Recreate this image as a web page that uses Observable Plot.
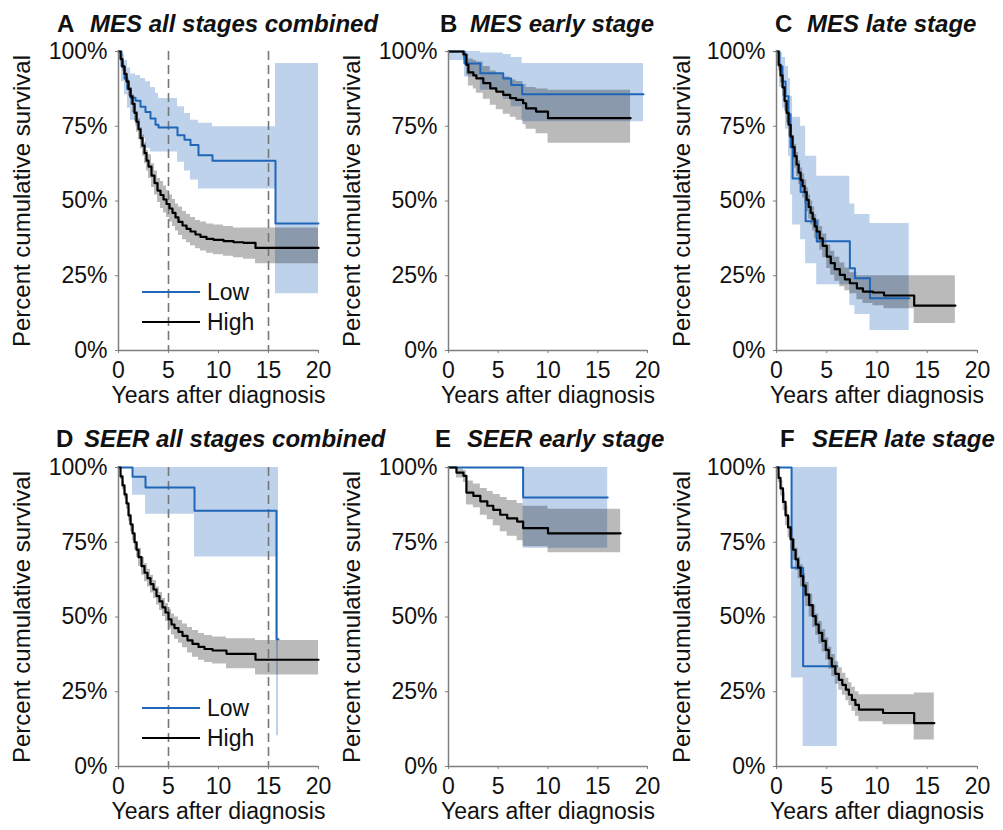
<!DOCTYPE html>
<html>
<head>
<meta charset="utf-8">
<script src="https://cdn.jsdelivr.net/npm/d3@7"></script>
<script src="https://cdn.jsdelivr.net/npm/@observablehq/plot@0.6"></script>
<style>
  html, body { margin: 0; padding: 0; background: #fff; }
  #root { position: relative; width: 1003px; height: 830px; overflow: hidden; font-family: "Liberation Sans", Arial, sans-serif; color: #111; }
  .panel { position: absolute; }
  .letter { position: absolute; font-weight: bold; font-size: 24px; line-height: 24px; white-space: nowrap; }
  .title { position: absolute; font-weight: bold; font-style: italic; font-size: 24px; line-height: 24px; white-space: nowrap; }
  .legend { position: absolute; overflow: visible; }
</style>
</head>
<body>
<div id="root"></div>
<script>
// ---------- labels & ticks ----------
const panelLetters = ["A", "B", "C", "D", "E", "F"];
const panelTitles = ["MES all stages combined", "MES early stage", "MES late stage",
                     "SEER all stages combined", "SEER early stage", "SEER late stage"];
const xLabel = "Years after diagnosis";
const yLabel = "Percent cumulative survival";
const xTicks = [0, 5, 10, 15, 20];
const yTicks = [0, 25, 50, 75, 100];
const legendLabels = ["Low", "High"];
const markerYears = [5, 15];

// ---------- A: MES all stages combined ----------
const mesAllLowT  = [0, 0.3, 0.6, 0.9, 1.2, 1.7, 2.2, 2.7, 3.2, 3.7, 4.0, 5.9, 6.6, 7.2, 8.0, 9.4, 15.7, 20];
const mesAllLowS  = [100, 95, 91, 87.5, 84.5, 83.5, 81.5, 79.8, 77.6, 75.5, 74.6, 72, 70.5, 68.7, 65.3, 63.5, 42.5, 42.5];
const mesAllLowHi = [100, 99, 97, 94.5, 92.5, 92, 91, 89.9, 88, 86, 84.3, 81.5, 79.3, 77, 76, 74.8, 96, 96];
const mesAllLowLo = [100, 90, 85.5, 81, 77, 75, 71, 67.6, 66.4, 66.4, 66.4, 63, 60, 57, 54, 54, 19, 19];

const mesAllHighT  = [0, 0.2, 0.4, 0.6, 0.8, 1.0, 1.2, 1.4, 1.6, 1.8, 2.0, 2.2, 2.4, 2.6, 2.8, 3.0, 3.3, 3.6, 3.9, 4.2, 4.5, 4.8, 5.1, 5.4, 5.7, 6.0, 6.4, 6.8, 7.2, 7.7, 8.2, 8.8, 9.5, 10.5, 11.5, 12.5, 13.7, 20];
const mesAllHighS  = [100, 97.5, 95, 92.5, 90, 87.5, 85, 82.5, 79.5, 76.5, 74, 71, 68.5, 66, 63.5, 61.5, 58.5, 56, 53.5, 52, 50.5, 49, 47.5, 46, 44.5, 43, 41.8, 40.7, 39.8, 38.8, 38, 37.3, 37, 36.6, 36.2, 36, 34.3, 34.3];
const mesAllHighHi = [100, 98.5, 96.5, 94.5, 92.5, 90, 88, 85.5, 82.5, 80, 77.5, 74.5, 72, 69.5, 67, 65.5, 62.5, 60, 57.5, 56.5, 55, 53.5, 52, 50.5, 49, 48, 46.5, 45.5, 44.5, 43.5, 43, 42.3, 42, 41.5, 41, 41, 41, 41];
const mesAllHighLo = [100, 96.5, 93.5, 90.5, 87.5, 85, 82, 79.5, 76.5, 73, 70.5, 67.5, 65, 62.5, 60, 57.5, 54.5, 52, 49.5, 47.5, 46, 44.5, 43, 41.5, 40, 38.5, 37, 36, 35, 34, 33.3, 32.5, 32, 31.5, 31, 30.5, 29, 29];

// ---------- B: MES early stage ----------
const mesEarlyLowT  = [0, 1.6, 3.2, 5.5, 6.3, 7.4, 19.6];
const mesEarlyLowS  = [100, 96, 92.7, 91, 88.8, 85.7, 85.7];
const mesEarlyLowHi = [100, 100, 99.5, 99, 98, 96, 96];
const mesEarlyLowLo = [97, 91.5, 87, 84, 81.5, 76.5, 76.5];

const mesEarlyHighT  = [0, 1.5, 1.8, 2.0, 2.5, 2.8, 3.5, 4.2, 4.8, 5.5, 6.2, 6.8, 7.5, 7.8, 8.8, 10.0, 18.3];
const mesEarlyHighS  = [100, 99, 95.5, 93, 92, 91, 89.4, 87.7, 86.6, 85.5, 84.4, 83.8, 82.7, 81, 79.9, 77.7, 77.7];
const mesEarlyHighHi = [100, 100, 99, 97.5, 97, 96.5, 95, 93.5, 92.5, 91.5, 90.5, 90, 89, 88, 87.5, 87, 87];
const mesEarlyHighLo = [99.5, 97.5, 92, 88.5, 87.5, 86, 84, 82, 80.5, 79, 78, 77, 75.5, 74, 72.5, 69.3, 69.3];

// ---------- C: MES late stage ----------
const mesLateLowT  = [0, 0.3, 0.6, 0.9, 1.2, 1.4, 1.6, 2.4, 2.9, 4.0, 7.3, 7.8, 9.3, 13.2];
const mesLateLowS  = [100, 95, 90, 85, 79, 68, 57.5, 53, 43.2, 36.5, 27.5, 24.2, 17.5, 17.5];
const mesLateLowHi = [100, 99.5, 98, 95, 91, 85, 78, 75, 65, 58.3, 49, 45.5, 42.5, 42.5];
const mesLateLowLo = [100, 88, 81, 74, 65, 52, 42, 37, 29, 22, 15, 12, 6.7, 6.7];

const mesLateHighT  = [0, 0.2, 0.4, 0.6, 0.8, 1.0, 1.2, 1.4, 1.6, 1.8, 2.0, 2.2, 2.4, 2.6, 2.8, 3.0, 3.2, 3.4, 3.6, 3.8, 4.0, 4.3, 4.6, 5.0, 5.4, 5.8, 6.3, 6.8, 7.3, 8.0, 8.6, 9.6, 10.7, 13.7, 17.8];
const mesLateHighS  = [100, 95.5, 92, 88, 83.5, 79.5, 75.5, 71.5, 68, 65, 62.2, 59.5, 57, 55, 53, 50.4, 48, 46, 44, 41.5, 39.8, 37.5, 35, 31.4, 29.2, 27.2, 25.3, 23.8, 22.5, 20.8, 19.7, 19.4, 18.4, 15, 15];
const mesLateHighHi = [100, 97.5, 94.5, 91, 87, 83, 79.5, 75.5, 72, 69, 66.2, 63.5, 61, 59, 57, 54.4, 52, 50, 48, 45.5, 43.8, 41.5, 39, 35.4, 33.2, 31.2, 29.3, 27.6, 26, 25, 25, 25, 25, 25, 25];
const mesLateHighLo = [100, 93.5, 89.5, 85, 80, 76, 71.5, 67.5, 64, 61, 58.2, 55.5, 53, 51, 49, 46.4, 44, 42, 40, 37.5, 35.8, 33.5, 31, 27.4, 25.2, 23.2, 21.3, 20, 19, 17, 15.7, 15, 14, 9, 9];

// ---------- D: SEER all stages combined ----------
const seerAllLowT  = [0, 1.4, 2.7, 7.6, 15.8, 16.0];
const seerAllLowS  = [100, 96.9, 93.3, 85.5, 42.6, 42.6];
const seerAllLowHi = [100, 100, 100, 100, 100, 100];
const seerAllLowLo = [100, 90.7, 84.4, 70.1, 10.3, 10.3];

const seerAllHighT  = [0, 0.2, 0.4, 0.6, 0.8, 1.0, 1.2, 1.4, 1.6, 1.8, 2.0, 2.3, 2.6, 2.9, 3.2, 3.5, 3.8, 4.1, 4.4, 4.7, 5.0, 5.3, 5.6, 6.0, 6.4, 6.9, 7.4, 8.0, 8.6, 9.4, 10.8, 13.7, 20];
const seerAllHighS  = [100, 97, 94, 91, 88, 84, 81, 78, 75, 72.5, 70, 67, 64.8, 63, 61, 59.2, 57, 55.2, 53.2, 51.5, 49.2, 47.5, 46.3, 45, 43.7, 42.2, 41, 40, 39.3, 38.8, 37.7, 35.7, 35.7];
const seerAllHighHi = [100, 98, 95.5, 92.5, 90, 86, 83.5, 80.5, 77.5, 75, 73, 70, 67.8, 66, 64, 62.2, 60, 58.2, 56.2, 54.5, 52.5, 51, 50, 48.8, 47.7, 46.5, 45.5, 44.5, 43.8, 43.3, 42.7, 42.1, 42.1];
const seerAllHighLo = [100, 96, 92.5, 89.5, 86, 82, 78.5, 75.5, 72.5, 70, 67, 64, 61.8, 60, 58, 56.2, 54, 52.2, 50.2, 48.5, 46, 44, 42.6, 41.2, 39.7, 38, 36.5, 35.5, 34.8, 34.3, 32.7, 30.6, 30.6];

// ---------- E: SEER early stage ----------
const seerEarlyLowT  = [0, 7.5, 16.0];
const seerEarlyLowS  = [100, 90, 90];
const seerEarlyLowHi = [100, 100, 100];
const seerEarlyLowLo = [100, 73, 73];

const seerEarlyHighT  = [0, 0.8, 1.5, 1.8, 2.5, 3.2, 3.9, 4.5, 5.2, 5.9, 6.9, 7.5, 10.0, 17.3];
const seerEarlyHighS  = [100, 98.3, 97.2, 91.6, 90.5, 88.7, 87.2, 85.8, 84.2, 83, 81.9, 79.7, 78, 78];
const seerEarlyHighHi = [100, 99.5, 99, 95.5, 94.5, 93, 92, 91, 90, 89, 88, 87, 86, 86];
const seerEarlyHighLo = [100, 96.5, 95, 87.5, 86.5, 84, 82.5, 80.5, 78.5, 77, 75.5, 73.5, 71.5, 71.5];

// ---------- F: SEER late stage ----------
const seerLateLowT  = [0, 1.5, 2.65, 6.05];
const seerLateLowS  = [100, 66.5, 33.5, 33.5];
const seerLateLowHi = [100, 100, 100, 100];
const seerLateLowLo = [100, 29.6, 6.7, 6.7];

const seerLateHighT  = [0, 0.2, 0.4, 0.65, 0.9, 1.15, 1.4, 1.65, 1.9, 2.15, 2.4, 2.65, 2.9, 3.25, 3.6, 3.9, 4.2, 4.55, 4.9, 5.2, 5.5, 5.85, 6.2, 6.55, 6.9, 7.2, 7.5, 7.85, 8.2, 10.6, 13.7, 15.7];
const seerLateHighS  = [100, 96.5, 93, 88.5, 84, 80, 76, 72.5, 69.3, 66.5, 63.7, 60.5, 57.5, 54, 50.3, 47.5, 44.7, 42, 39, 36.2, 33.5, 31, 29, 27.3, 25.7, 24, 22.3, 20.6, 19, 17.9, 14.5, 14.5];
const seerLateHighHi = [100, 98, 95.5, 91.5, 87, 83.5, 79.5, 76, 73, 70, 67.5, 64.5, 61.5, 57.7, 54, 51, 48.5, 45.7, 43, 40, 37.5, 35, 33, 31.2, 29.5, 28, 26.5, 25, 24, 24, 24.6, 24.6];
const seerLateHighLo = [100, 95, 90.5, 85.5, 80.5, 76.5, 72.5, 69, 65.5, 62.8, 60, 56.5, 53.5, 50, 46.5, 43.8, 41, 38.3, 35.5, 32.5, 30, 27.5, 25.5, 23.8, 22, 20.3, 18.5, 16.8, 15, 14, 8.9, 8.9];

// ---------- styling ----------
const BLUE = "#1f66b8";
const BLUE_BAND = "#bed2eb";
const AXIS = "#7f7f7f";
const TEXT = "#111";
const FONT = "'Liberation Sans', Arial, sans-serif";

function rows(t, s, lo, hi) {
  return t.map((d, i) => ({t: d, s: s[i], lo: lo[i], hi: hi[i]}));
}

const panels = [
  {low: rows(mesAllLowT, mesAllLowS, mesAllLowLo, mesAllLowHi), high: rows(mesAllHighT, mesAllHighS, mesAllHighLo, mesAllHighHi), markers: true,
   left: 0, top: 0, w: 335, ml: 118, mr: 17, mt: 51, mb: 65, ylDx: -96, letterX: 57, titleX: 90, titleY: 12},
  {low: rows(mesEarlyLowT, mesEarlyLowS, mesEarlyLowLo, mesEarlyLowHi), high: rows(mesEarlyHighT, mesEarlyHighS, mesEarlyHighLo, mesEarlyHighHi), markers: false,
   left: 330, top: 0, w: 335, ml: 118, mr: 18, mt: 51, mb: 65, ylDx: -96, letterX: 440, titleX: 470, titleY: 12},
  {low: rows(mesLateLowT, mesLateLowS, mesLateLowLo, mesLateLowHi), high: rows(mesLateHighT, mesLateHighS, mesLateHighLo, mesLateHighHi), markers: false,
   left: 665, top: 0, w: 338, ml: 111, mr: 26, mt: 51, mb: 65, ylDx: -94, letterX: 775, titleX: 807, titleY: 12},
  {low: rows(seerAllLowT, seerAllLowS, seerAllLowLo, seerAllLowHi), high: rows(seerAllHighT, seerAllHighS, seerAllHighLo, seerAllHighHi), markers: true,
   left: 0, top: 415, w: 335, ml: 118, mr: 17, mt: 52, mb: 64, ylDx: -96, letterX: 56, titleX: 84, titleY: 427},
  {low: rows(seerEarlyLowT, seerEarlyLowS, seerEarlyLowLo, seerEarlyLowHi), high: rows(seerEarlyHighT, seerEarlyHighS, seerEarlyHighLo, seerEarlyHighHi), markers: false,
   left: 330, top: 415, w: 335, ml: 118, mr: 18, mt: 52, mb: 64, ylDx: -96, letterX: 435, titleX: 467, titleY: 427},
  {low: rows(seerLateLowT, seerLateLowS, seerLateLowLo, seerLateLowHi), high: rows(seerLateHighT, seerLateHighS, seerLateHighLo, seerLateHighHi), markers: false,
   left: 665, top: 415, w: 338, ml: 111, mr: 26, mt: 52, mb: 64, ylDx: -94, letterX: 780, titleX: 812, titleY: 427}
];

const root = document.getElementById("root");

panels.forEach((p, i) => {
  const chart = Plot.plot({
    width: p.w,
    height: 415,
    marginLeft: p.ml, marginRight: p.mr, marginTop: p.mt, marginBottom: p.mb,
    x: {domain: [0, 20]},
    y: {domain: [0, 100]},
    style: {fontFamily: FONT, fontSize: "23px", overflow: "visible", background: "transparent", color: TEXT},
    marks: [
      Plot.areaY(p.low, {x: "t", y1: "lo", y2: "hi", curve: "step-after", fill: BLUE_BAND}),
      Plot.areaY(p.high, {x: "t", y1: "lo", y2: "hi", curve: "step-after", fill: "#000", fillOpacity: 0.27}),
      p.markers ? Plot.ruleX(markerYears, {stroke: "#777", strokeWidth: 1.6, strokeDasharray: "9,5"}) : null,
      Plot.line(p.low, {x: "t", y: "s", curve: "step-after", stroke: BLUE, strokeWidth: 2}),
      Plot.line(p.high, {x: "t", y: "s", curve: "step-after", stroke: "#000", strokeWidth: 2.2}),
      Plot.ruleX([0], {stroke: AXIS, strokeWidth: 1.5}),
      Plot.ruleY([0], {stroke: AXIS, strokeWidth: 1.5}),
      Plot.axisX({ticks: xTicks, tickSize: 3, tickPadding: 8, stroke: AXIS, fill: TEXT, fontSize: 23, label: null}),
      Plot.axisY({ticks: yTicks, tickFormat: d => d + "%", tickSize: 3, tickPadding: 8, stroke: AXIS, fill: TEXT, fontSize: 23, label: null}),
      Plot.text([xLabel], {text: d => d, frameAnchor: "bottom", dy: 52, fontSize: 23, fill: TEXT}),
      Plot.text([yLabel], {text: d => d, frameAnchor: "left", textAnchor: "middle", dx: p.ylDx, rotate: -90, fontSize: 24, fill: TEXT})
    ]
  });
  const div = document.createElement("div");
  div.className = "panel";
  div.style.left = p.left + "px";
  div.style.top = p.top + "px";
  div.style.width = p.w + "px";
  div.appendChild(chart);
  root.appendChild(div);

  const letter = document.createElement("div");
  letter.className = "letter";
  letter.textContent = panelLetters[i];
  letter.style.left = p.letterX + "px";
  letter.style.top = p.titleY + "px";
  root.appendChild(letter);

  const title = document.createElement("div");
  title.className = "title";
  title.textContent = panelTitles[i];
  title.style.left = p.titleX + "px";
  title.style.top = p.titleY + "px";
  root.appendChild(title);

  if (p.markers) {
    // legend (Low / High) inside the plot area
    const ns = "http://www.w3.org/2000/svg";
    const svg = document.createElementNS(ns, "svg");
    svg.setAttribute("class", "legend");
    svg.setAttribute("width", 130);
    svg.setAttribute("height", 60);
    svg.style.left = (p.left + 140) + "px";
    svg.style.top = (p.top + 277 + (p.mt - 51)) + "px";
    const colors = [BLUE, "#000"];
    legendLabels.forEach((lab, j) => {
      const y = 15 + j * 30;
      const line = document.createElementNS(ns, "line");
      line.setAttribute("x1", 2); line.setAttribute("x2", 60);
      line.setAttribute("y1", y); line.setAttribute("y2", y);
      line.setAttribute("stroke", colors[j]); line.setAttribute("stroke-width", 2.2);
      svg.appendChild(line);
      const tx = document.createElementNS(ns, "text");
      tx.setAttribute("x", 67); tx.setAttribute("y", y);
      tx.setAttribute("dominant-baseline", "central");
      tx.setAttribute("font-family", "Liberation Sans, Arial, sans-serif");
      tx.setAttribute("font-size", 23);
      tx.setAttribute("fill", TEXT);
      tx.textContent = lab;
      svg.appendChild(tx);
    });
    root.appendChild(svg);
  }
});
</script>
</body>
</html>
